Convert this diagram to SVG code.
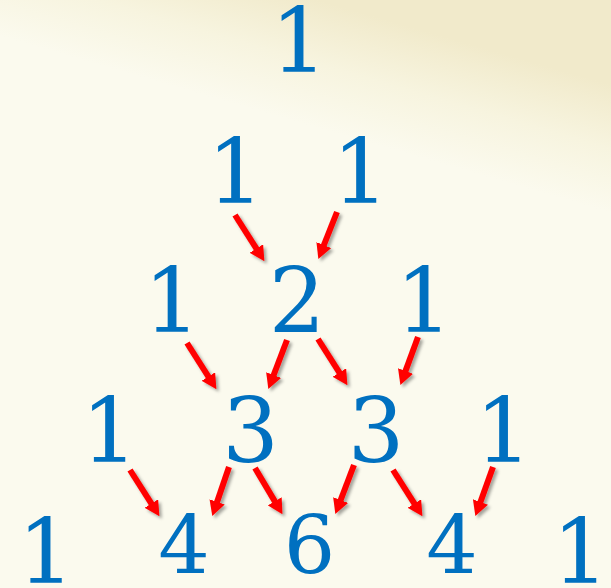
<svg xmlns="http://www.w3.org/2000/svg" width="611" height="588" viewBox="0 0 611 588">
<style>
.n{font-family:"DejaVu Serif","Liberation Serif",serif;font-size:89px;fill:#0070C0;text-anchor:middle}
.s{font-size:81px}
.a{stroke:#FF0000;stroke-width:6;fill:none;marker-end:url(#ah)}
</style>
<defs>
<linearGradient id="bg" x1="0.52" y1="0" x2="0.46" y2="0.2">
<stop offset="0" stop-color="#F1EACB"/>
<stop offset="0.5" stop-color="#F7F4DF"/>
<stop offset="1" stop-color="#FBFAEE"/>
</linearGradient>
<marker id="ah" markerUnits="userSpaceOnUse" markerWidth="15" markerHeight="16" viewBox="0 0 15 16" refX="1" refY="8" orient="auto">
<path d="M0,0 L15,8 L0,16 z" fill="#FF0000"/>
</marker>
<filter id="sh" x="-20%" y="-20%" width="140%" height="140%">
<feDropShadow dx="2.5" dy="2.5" stdDeviation="1.8" flood-color="#000" flood-opacity="0.35"/>
</filter>
</defs>
<rect width="611" height="588" fill="#FBFAEF"/>
<rect width="611" height="588" fill="url(#bg)"/>
<g id="r1"><text class="n" x="299" y="72">1</text></g>
<g id="r2a"><text class="n" x="235.5" y="203">1</text></g>
<g id="r2b"><text class="n" x="360.5" y="203">1</text></g>
<g id="r3a"><text class="n" x="172" y="332">1</text></g>
<g id="r3b"><text class="n" x="297" y="332">2</text></g>
<g id="r3c"><text class="n" x="424" y="332">1</text></g>
<g id="r4a"><text class="n" x="109.5" y="462">1</text></g>
<g id="r4b"><text class="n" x="250.5" y="462">3</text></g>
<g id="r4c"><text class="n" x="376" y="462">3</text></g>
<g id="r4d"><text class="n" x="503.5" y="462">1</text></g>
<g id="r5a"><text class="n" x="46" y="583">1</text></g>
<g id="r5b"><text class="n s" x="184" y="573">4</text></g>
<g id="r5c"><text class="n s" x="309.5" y="573">6</text></g>
<g id="r5d"><text class="n s" x="452" y="573">4</text></g>
<g id="r5e"><text class="n" x="580.5" y="583">1</text></g>
<g id="connectors" filter="url(#sh)">
<line class="a" x1="235" y1="215" x2="256.9" y2="249.4"/>
<line class="a" x1="337" y1="212" x2="323.5" y2="246"/>
<line class="a" x1="187" y1="343" x2="208.9" y2="377.4"/>
<line class="a" x1="287" y1="340" x2="273.3" y2="376"/>
<line class="a" x1="318" y1="339" x2="339.9" y2="373.4"/>
<line class="a" x1="418" y1="337" x2="405.2" y2="371.9"/>
<line class="a" x1="130" y1="470" x2="151.9" y2="504.4"/>
<line class="a" x1="229" y1="467" x2="216.8" y2="502.8"/>
<line class="a" x1="255" y1="468" x2="275.3" y2="502.1"/>
<line class="a" x1="354" y1="465" x2="340.3" y2="501"/>
<line class="a" x1="393" y1="470" x2="414.9" y2="504.4"/>
<line class="a" x1="493" y1="467" x2="480.1" y2="502.9"/>
</g>
</svg>
